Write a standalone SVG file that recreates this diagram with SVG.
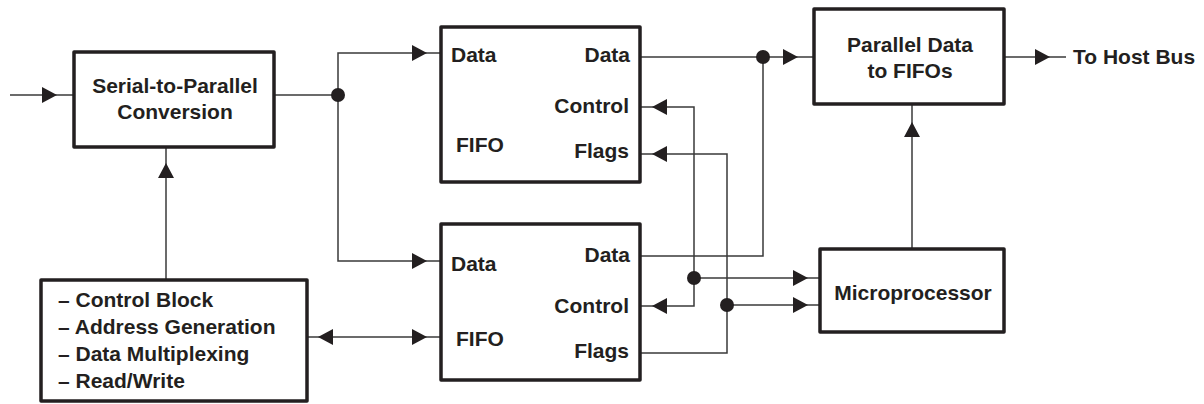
<svg xmlns="http://www.w3.org/2000/svg" xmlns:xlink="http://www.w3.org/1999/xlink" width="1204" height="404" viewBox="0 0 1204 404">
<style>
.box{fill:#fff;stroke:#231f20;stroke-width:3.5;stroke-linejoin:round}
.t{font-family:"Liberation Sans",Arial,sans-serif;font-weight:bold;font-size:21px;fill:#231f20}
.c{text-anchor:middle}
.e{text-anchor:end}
.ln{fill:none;stroke:#3a3a3a;stroke-width:1.5}
.ah{fill:#231f20}
.dot{fill:#231f20}
</style>
<defs>
<path id="ah" d="M0,0 L-15,-8 L-15,8 Z"/>
</defs>
<rect width="1204" height="404" fill="#fff"/>
<g id="connectors">
<path class="ln" d="M10,95 H74"/>
<path class="ln" d="M275,95 H338"/>
<path class="ln" d="M440,53 H338 V261 H440"/>
<path class="ln" d="M166,148 V279"/>
<path class="ln" d="M307,337 H440"/>
<path class="ln" d="M641,57 H813"/>
<path class="ln" d="M641,256 H763 V57"/>
<path class="ln" d="M641,107 H694 V306 H641"/>
<path class="ln" d="M694,278 H819"/>
<path class="ln" d="M641,154 H727 V353 H641"/>
<path class="ln" d="M727,305 H819"/>
<path class="ln" d="M1004,57 H1066"/>
<path class="ln" d="M912,248 V105"/>
<use href="#ah" class="ah" transform="translate(57,95)"/>
<use href="#ah" class="ah" transform="translate(427,53)"/>
<use href="#ah" class="ah" transform="translate(427,261)"/>
<use href="#ah" class="ah" transform="translate(427,337)"/>
<use href="#ah" class="ah" transform="translate(318,337) rotate(180)"/>
<use href="#ah" class="ah" transform="translate(166,163) rotate(-90)"/>
<use href="#ah" class="ah" transform="translate(652,107) rotate(180)"/>
<use href="#ah" class="ah" transform="translate(652,154) rotate(180)"/>
<use href="#ah" class="ah" transform="translate(652,306) rotate(180)"/>
<use href="#ah" class="ah" transform="translate(798,57)"/>
<use href="#ah" class="ah" transform="translate(1050,57)"/>
<use href="#ah" class="ah" transform="translate(912,122) rotate(-90)"/>
<use href="#ah" class="ah" transform="translate(808,278)"/>
<use href="#ah" class="ah" transform="translate(808,305)"/>
<circle class="dot" cx="338" cy="95" r="7"/>
<circle class="dot" cx="763" cy="57" r="7"/>
<circle class="dot" cx="694" cy="278" r="7"/>
<circle class="dot" cx="727" cy="305" r="7"/>
</g>
<g id="serial">
<rect class="box" x="74" y="52" width="200" height="95"/>
<text class="t c" x="175" y="93">Serial-to-Parallel</text>
<text class="t c" x="175" y="119">Conversion</text>
</g>
<g id="control-block">
<rect class="box" x="41" y="280" width="266" height="121"/>
<text class="t" x="58" y="307">– Control Block</text>
<text class="t" x="58" y="334">– Address Generation</text>
<text class="t" x="58" y="361">– Data Multiplexing</text>
<text class="t" x="58" y="388">– Read/Write</text>
</g>
<g id="fifo1">
<rect class="box" x="441" y="27" width="199" height="155"/>
<text class="t" x="451" y="62">Data</text>
<text class="t e" x="630" y="62">Data</text>
<text class="t e" x="629" y="113">Control</text>
<text class="t" x="456" y="152">FIFO</text>
<text class="t e" x="629" y="158">Flags</text>
</g>
<g id="fifo2">
<rect class="box" x="441" y="224" width="199" height="156"/>
<text class="t" x="451" y="271">Data</text>
<text class="t e" x="630" y="262">Data</text>
<text class="t e" x="629" y="313">Control</text>
<text class="t" x="456" y="346">FIFO</text>
<text class="t e" x="629" y="358">Flags</text>
</g>
<g id="parallel">
<rect class="box" x="814" y="9" width="190" height="95"/>
<text class="t c" x="910" y="52">Parallel Data</text>
<text class="t c" x="910" y="78">to FIFOs</text>
</g>
<g id="microprocessor">
<rect class="box" x="820" y="249" width="184" height="83"/>
<text class="t c" x="913" y="300">Microprocessor</text>
</g>
<g id="host-bus">
<text class="t" x="1073" y="64">To Host Bus</text>
</g>
</svg>
